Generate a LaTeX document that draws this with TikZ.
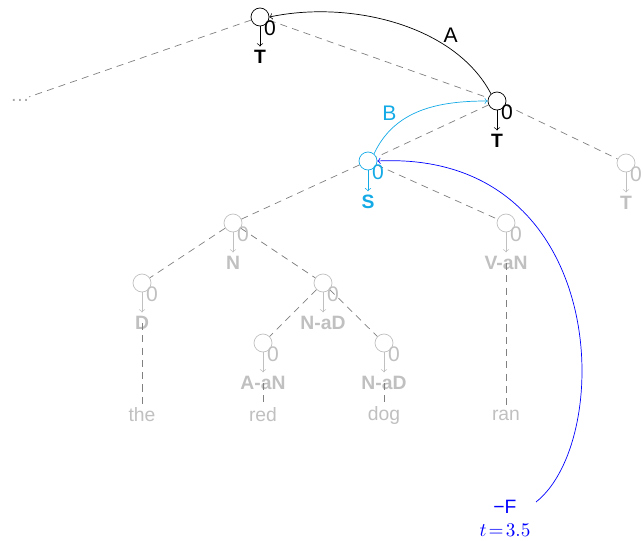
\documentclass[tikz,border=0pt]{standalone}
\usepackage{fontspec}
\setsansfont{Liberation Sans}
\usepackage{xcolor}
\usetikzlibrary{arrows}

\definecolor{faded}{RGB}{192,192,192}
\definecolor{edgegray}{RGB}{128,128,128}
\definecolor{focus}{RGB}{20,170,230}

\tikzset{
  cat/.style={circle, draw, minimum size=0.36cm, inner sep=0pt},
  zero/.style={font=\sffamily\fontsize{12}{12}\selectfont, inner sep=0pt},
  catlabel/.style={font=\sffamily\bfseries\fontsize{11}{11}\selectfont, inner sep=1pt},
  word/.style={font=\sffamily\fontsize{11}{11}\selectfont, text=faded, inner sep=1pt},
  edge/.style={dashed, dash pattern=on 4pt off 3pt, edgegray, thin},
  down/.style={->, shorten >=1pt}
}

\begin{document}
\begin{tikzpicture}[x=0.02cm, y=0.02cm, font=\sffamily]
        \useasboundingbox (0,0) rectangle (643,-541);

        % Paso 1: Define los nodos activos (negro y azul claro)
        \node[cat] (tT) at (260,-17) {};
        \node[cat] (tR) at (497,-101) {};
        \node[cat, focus] (s) at (368,-161) {};

        % Paso 2: Define los nodos apagados
        \node[cat, faded] (tF) at (626,-163) {};
        \node[cat, faded] (n) at (233,-223) {};
        \node[cat, faded] (vaN) at (506,-223) {};
        \node[cat, faded] (d) at (142,-283) {};
        \node[cat, faded] (naD) at (323,-283) {};
        \node[cat, faded] (aaN) at (263,-343) {};
        \node[cat, faded] (naDb) at (384,-343) {};

        % Paso 3: Etiquetas de categoria debajo de cada nodo
        \node[catlabel] (tTl) at (260,-57) {T};
        \node[catlabel] (tRl) at (497,-141) {T};
        \node[catlabel, text=focus] (sl) at (368,-202) {S};
        \node[catlabel, text=faded] (tFl) at (626,-203) {T};
        \node[catlabel, text=faded] (nl) at (233,-263) {N};
        \node[catlabel, text=faded] (vaNl) at (506,-263) {V-aN};
        \node[catlabel, text=faded] (dl) at (142,-323) {D};
        \node[catlabel, text=faded] (naDl) at (323,-323) {N-aD};
        \node[catlabel, text=faded] (aaNl) at (263,-383) {A-aN};
        \node[catlabel, text=faded] (naDbl) at (384,-383) {N-aD};

        % Paso 4: Palabras y puntos suspensivos
        \node[word] (the) at (142,-415) {the};
        \node[word] (red) at (263,-415) {red};
        \node[word] (dog) at (384,-415) {dog};
        \node[word] (ran) at (506,-415) {ran};
        \node[word, text=edgegray!70] (dots) at (20,-100) {\dots};

        % Paso 5: Aristas punteadas del arbol
        \draw[edge] (tT) -- (dots);
        \draw[edge] (tT) -- (tR);
        \draw[edge] (tR) -- (s);
        \draw[edge] (tR) -- (tF);
        \draw[edge] (s) -- (n);
        \draw[edge] (s) -- (vaN);
        \draw[edge] (n) -- (d);
        \draw[edge] (n) -- (naD);
        \draw[edge] (naD) -- (aaN);
        \draw[edge] (naD) -- (naDb);
        \draw[edge] (dl.center) -- (the);
        \draw[edge] (aaNl.center) -- (red);
        \draw[edge] (naDbl.center) -- (dog);
        \draw[edge] (vaNl.center) -- (ran);

        % Paso 6: Flechas hacia abajo y ceros
        \draw[down] (tT) -- (tTl);
        \draw[down] (tR) -- (tRl);
        \draw[down, focus] (s) -- (sl);
        \draw[down, faded] (tF) -- (tFl);
        \draw[down, faded] (n) -- (nl);
        \draw[down, faded] (vaN) -- (vaNl);
        \draw[down, faded] (d) -- (dl);
        \draw[down, faded] (naD) -- (naDl);
        \draw[down, faded] (aaN) -- (aaNl);
        \draw[down, faded] (naDb) -- (naDbl);
        \foreach \c/\col in {tT/black, tR/black, s/focus, tF/faded, n/faded, vaN/faded, d/faded, naD/faded, aaN/faded, naDb/faded}
          \node[zero, text=\col] at ([xshift=0.2cm, yshift=-0.22cm]\c.center) {0};

        % Paso 7: Arcos A y B
        \draw[->] (tR.130) .. controls (455,-25) and (350,0) .. (tT.east)
          node[pos=0.3, anchor=south west, inner sep=0.5pt, font=\sffamily\fontsize{12}{12}\selectfont] {A};
        \draw[->, focus] (s.50) to[out=65, in=180]
          node[pos=0.3, anchor=south east, inner sep=1pt, font=\sffamily\fontsize{12}{12}\selectfont] {B} (tR.west);

        % Paso 8: Arco azul desde -F
        \node[blue, font=\sffamily\fontsize{11}{11}\selectfont, inner sep=1pt] (mF) at (505,-507) {−F};
        \node[blue, inner sep=1pt, font=\fontsize{11}{11}\selectfont] (tlab) at (505,-530) {$t\!=\!3.5$};
        \coordinate (fEnd) at (536,-502);
        \draw[->, blue] (fEnd) .. controls (615,-440) and (610,-150) .. (s.east);
\end{tikzpicture}
\end{document}
